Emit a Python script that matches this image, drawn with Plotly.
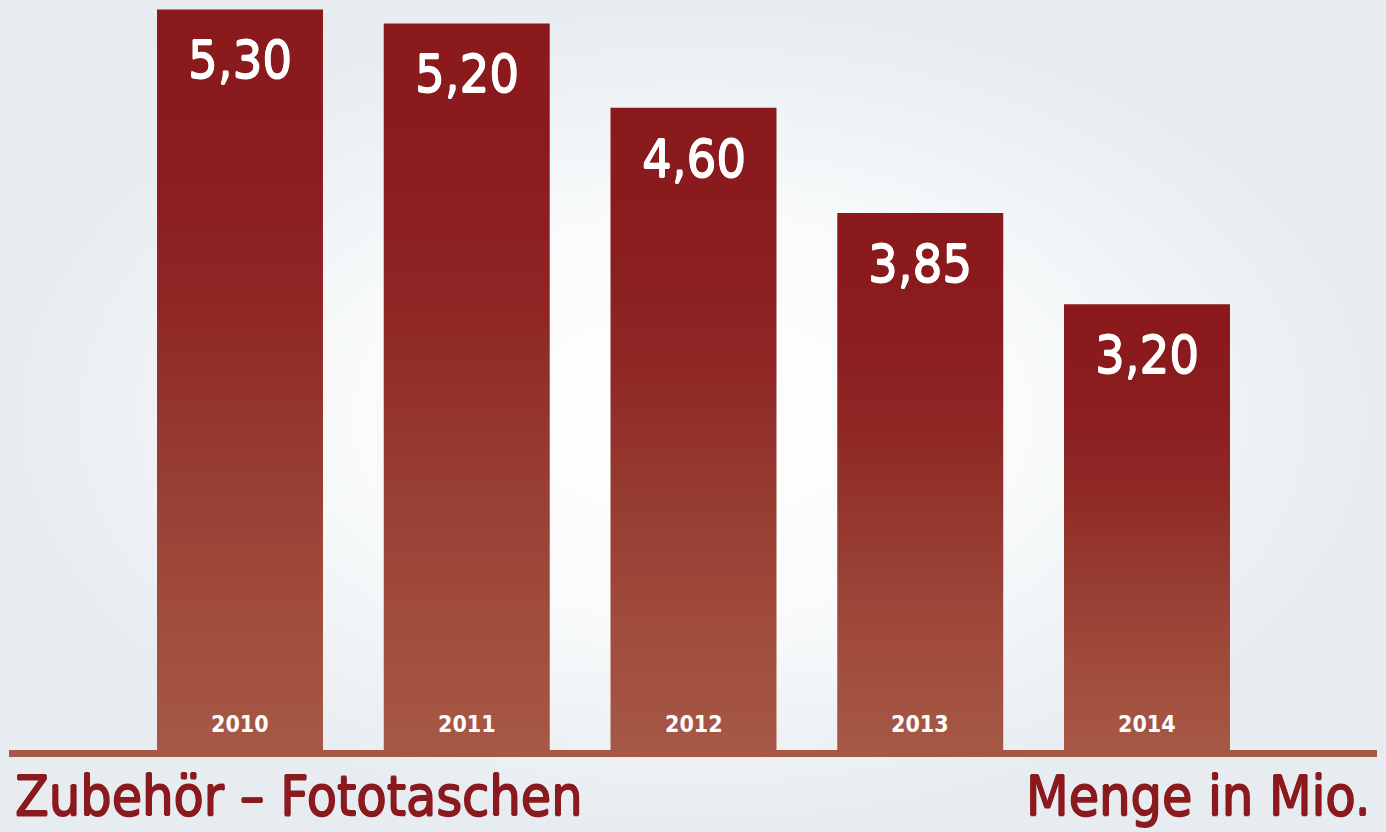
import plotly.graph_objects as go

years = ["2010", "2011", "2012", "2013", "2014"]
values = [5.30, 5.20, 4.60, 3.85, 3.20]
value_labels = ["5,30", "5,20", "4,60", "3,85", "3,20"]
title_left = "Zubehör – Fototaschen"
title_right = "Menge in Mio."

W, H = 1386, 832
FONT = "Liberation Sans Narrow, DejaVu Sans Condensed, sans-serif"
DARK = "#8A191C"
LIGHT = "#A65846"
TEXT_RED = "#8B1A1F"
bar_w = 0.732


def thick(color, d=0.7):
    return ", ".join(f"{dx}px {dy}px 0px {color}" for dx, dy in
                     [(d, 0), (-d, 0), (0, d), (0, -d)])


fig = go.Figure()

# background radial gradient on base axes
fig.add_trace(go.Scatter(
    x=[0, 1, 1, 0, 0], y=[0, 0, 1, 1, 0], mode="lines", line=dict(width=0),
    fill="toself",
    fillgradient=dict(type="radial", colorscale=[[0, "#FFFFFF"], [0.5, "#F8FAFB"], [1, "#E7ECF0"]]),
    hoverinfo="skip", showlegend=False, xaxis="x", yaxis="y"))

bar_scale = [[0, LIGHT], [0.2, "#A04B3C"], [0.41, "#963A30"], [0.61, "#8F2624"],
             [0.8, "#8A1C1E"], [1, DARK]]

# bars as gradient-filled rectangles on overlay axes
for i, v in enumerate(values):
    fig.add_trace(go.Scatter(
        x=[i - bar_w / 2, i + bar_w / 2, i + bar_w / 2, i - bar_w / 2, i - bar_w / 2],
        y=[0, 0, v, v, 0],
        mode="lines", line=dict(width=0), fill="toself",
        fillgradient=dict(type="vertical", colorscale=bar_scale),
        hoverinfo="skip", showlegend=False, xaxis="x2", yaxis="y2"))

px_per_unit = 140.4
base_px = 753.5
x_first = 240
spacing = 226.75

x_lo = -x_first / spacing
x_hi = (W - x_first) / spacing
y_lo = -(H - base_px) / px_per_unit
y_hi = base_px / px_per_unit

annotations = []
for i, (v, lab, yr) in enumerate(zip(values, value_labels, years)):
    annotations.append(dict(x=i, y=v, xref="x2", yref="y2", text=lab, showarrow=False,
                            yanchor="middle", yshift=-51,
                            font=dict(family=FONT, size=52, color="white",
                                      shadow=thick("white", 0.6))))
    annotations.append(dict(x=i, y=0, xref="x2", yref="y2", text=yr, showarrow=False,
                            yanchor="middle", yshift=30,
                            font=dict(family=FONT, size=23, color="white", weight="bold")))

annotations.append(dict(x=13 / W, y=1 - 796 / H, xref="paper", yref="paper", text=title_left,
                        showarrow=False, xanchor="left", yanchor="middle",
                        font=dict(family=FONT, size=55, color=TEXT_RED,
                                  shadow=thick(TEXT_RED, 0.8))))
annotations.append(dict(x=1372 / W, y=1 - 796 / H, xref="paper", yref="paper", text=title_right,
                        showarrow=False, xanchor="right", yanchor="middle",
                        font=dict(family=FONT, size=55, color=TEXT_RED,
                                  shadow=thick(TEXT_RED, 0.8))))

fig.update_layout(
    width=W, height=H, margin=dict(l=0, r=0, t=0, b=0),
    paper_bgcolor="#E8EDF1", plot_bgcolor="rgba(0,0,0,0)",
    showlegend=False,
    xaxis=dict(range=[0, 1], visible=False, fixedrange=True),
    yaxis=dict(range=[0, 1], visible=False, fixedrange=True),
    xaxis2=dict(range=[x_lo, x_hi], overlaying="x", visible=False, fixedrange=True),
    yaxis2=dict(range=[y_lo, y_hi], overlaying="y", visible=False, fixedrange=True),
    annotations=annotations,
    shapes=[dict(type="line", xref="paper", yref="y2", x0=9 / W, x1=1377 / W, y0=0, y1=0,
                 line=dict(color=LIGHT, width=7), layer="above")],
)

fig.write_html("out.html", config={"displayModeBar": False},
               post_script="document.body.style.margin='0px';document.body.style.overflow='hidden';")
